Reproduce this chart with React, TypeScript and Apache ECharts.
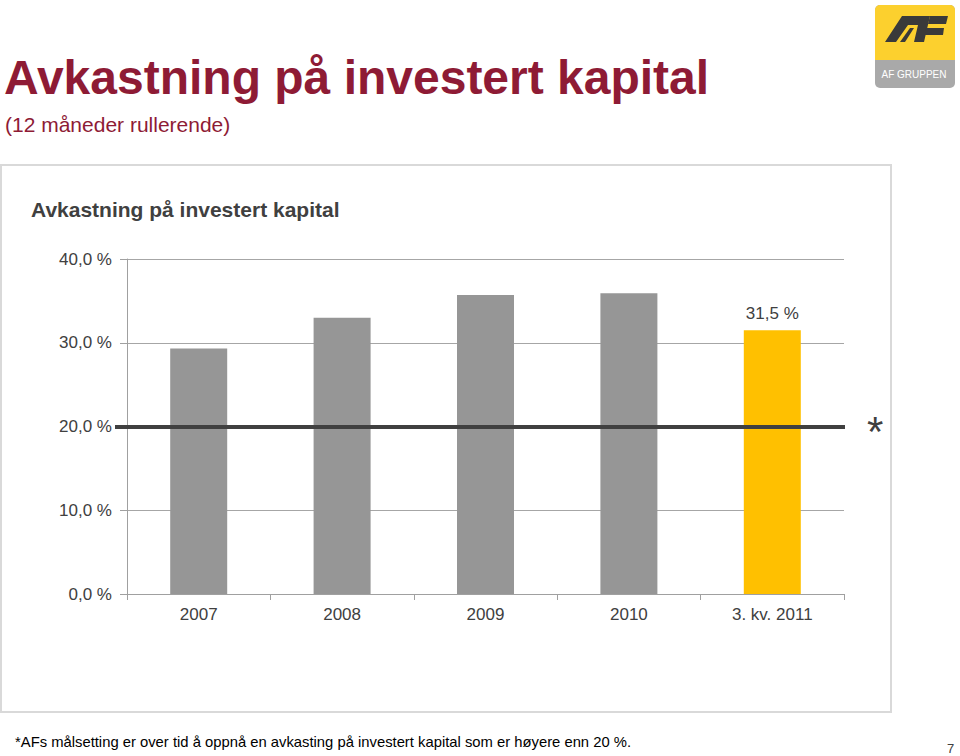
import React, { useEffect, useRef } from "react";
import * as echarts from "echarts";

const categories = ["2007", "2008", "2009", "2010", "3. kv. 2011"];
const values = [29.3, 33.0, 35.7, 35.9, 31.5];
const barColors = ["#969696", "#969696", "#969696", "#969696", "#FFC000"];
const labelledIndex = [4];
const targetValue = 20;
const yTicks = { min: 0, max: 40, interval: 10 };

const mainTitle = "Avkastning på investert kapital";
const subTitle = "(12 måneder rullerende)";
const chartTitle = "Avkastning på investert kapital";
const footnote = "*AFs målsetting er over tid å oppnå en avkasting på investert kapital som er høyere enn 20 %.";
const pageNumber = "7";

const FONT = "'Liberation Sans', Arial, sans-serif";
const fmt = (v: number) => v.toFixed(1).replace(".", ",") + " %";

export default function App() {
  const ref = useRef<HTMLDivElement>(null);
  useEffect(() => {
    document.body.style.margin = "0";
    const chart = echarts.init(ref.current!, null, { renderer: "svg" });
    chart.setOption({
      animation: false,
      backgroundColor: "#ffffff",
      textStyle: { fontFamily: FONT },
      title: [
        { text: mainTitle, left: 4, top: 53, padding: 0, textStyle: { fontSize: 48, fontWeight: "bold", color: "#8E1B35", fontFamily: FONT } },
        { text: subTitle, left: 5, top: 114, padding: 0, textStyle: { fontSize: 21, fontWeight: "normal", color: "#8E1B35", fontFamily: FONT } },
        { text: chartTitle, left: 31, top: 199, padding: 0, textStyle: { fontSize: 21, fontWeight: "bold", color: "#404040", fontFamily: FONT } },
        { text: footnote, left: 15, top: 734, padding: 0, textStyle: { fontSize: 14.8, fontWeight: "normal", color: "#000000", fontFamily: FONT } },
        { text: pageNumber, left: 947, top: 742, padding: 0, textStyle: { fontSize: 13, fontWeight: "normal", color: "#404040", fontFamily: FONT } },
      ],
      graphic: [
        { type: "rect", shape: { x: 1, y: 165, width: 890, height: 547 }, style: { fill: "none", stroke: "#d9d9d9", lineWidth: 2 }, z: -1 },
        { type: "rect", shape: { x: 875, y: 5, width: 80, height: 83, r: 5 }, style: { fill: "#A9A9A9" } },
        { type: "rect", shape: { x: 875, y: 5, width: 80, height: 55, r: [5, 5, 0, 0] }, style: { fill: "#FCD02E" } },
        { type: "polygon", shape: { points: [[885, 42], [902, 16], [930, 16], [924, 42], [914, 42], [918, 25], [908, 25], [896, 42]] }, style: { fill: "#3a3a3a" } },
        { type: "polygon", shape: { points: [[900, 42], [910, 28], [914, 28], [905, 42]] }, style: { fill: "#3a3a3a" } },
        { type: "polygon", shape: { points: [[930, 16], [948, 16], [946, 24], [928, 24]] }, style: { fill: "#3a3a3a" } },
        { type: "polygon", shape: { points: [[926, 28], [944, 28], [943, 35], [925, 35]] }, style: { fill: "#3a3a3a" } },
        { type: "text", style: { text: "AF GRUPPEN", x: 914, y: 74, align: "center", verticalAlign: "middle", fill: "#ffffff", font: "10px 'Liberation Sans', Arial, sans-serif" } },
      ],
      grid: { left: 127, top: 259, right: 116, bottom: 162, containLabel: false },
      xAxis: {
        type: "category",
        data: categories,
        axisLine: { lineStyle: { color: "#a0a0a0", width: 1 } },
        axisTick: { show: true, length: 6, lineStyle: { color: "#a0a0a0" } },
        axisLabel: { color: "#404040", fontSize: 17, margin: 12, fontFamily: FONT },
      },
      yAxis: {
        type: "value",
        min: yTicks.min,
        max: yTicks.max,
        interval: yTicks.interval,
        axisLine: { show: true, lineStyle: { color: "#a0a0a0", width: 1 } },
        axisTick: { show: true, length: 7, lineStyle: { color: "#a0a0a0" } },
        axisLabel: { color: "#404040", fontSize: 17, margin: 15, fontFamily: FONT, formatter: (v: number) => fmt(v) },
        splitLine: { show: true, lineStyle: { color: "#a6a6a6", width: 1 } },
      },
      series: [
        {
          type: "bar",
          barWidth: 57,
          data: values.map((v, i) => ({
            value: v,
            itemStyle: { color: barColors[i] },
            label: labelledIndex.includes(i)
              ? { show: true, position: "top", distance: 8, color: "#404040", fontSize: 17, fontFamily: FONT, formatter: (p: any) => fmt(p.value) }
              : { show: false },
          })),
          markLine: {
            silent: true,
            symbol: ["none", "none"],
            lineStyle: { color: "#404040", width: 4, type: "solid" },
            label: { show: true, position: "end", formatter: "*", color: "#404040", fontSize: 42, lineHeight: 9, verticalAlign: "top", distance: 22, fontFamily: FONT },
            data: [[{ yAxis: targetValue, x: 115 }, { yAxis: targetValue, x: 845 }]],
          },
        },
      ],
    });
    return () => chart.dispose();
  }, []);
  return <div ref={ref} style={{ position: "absolute", left: 0, top: 0, width: 960, height: 756 }} />;
}
